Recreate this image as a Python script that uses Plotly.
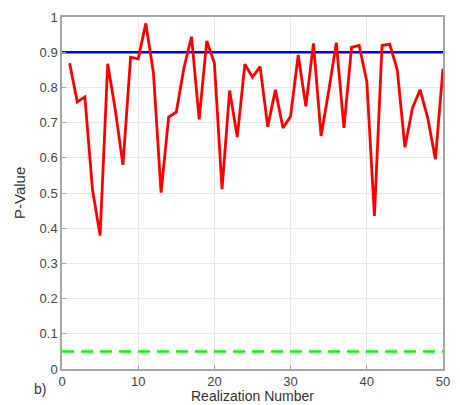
import plotly.graph_objects as go

# Realization index and p-value per realization
realization = list(range(1, 51))
p_value = [
    0.869, 0.759, 0.773, 0.510, 0.379, 0.867, 0.735, 0.580, 0.886, 0.881,
    0.982, 0.841, 0.501, 0.716, 0.730, 0.855, 0.944, 0.709, 0.932, 0.869,
    0.511, 0.791, 0.659, 0.866, 0.829, 0.859, 0.688, 0.793, 0.685, 0.718,
    0.892, 0.746, 0.925, 0.662, 0.790, 0.927, 0.685, 0.914, 0.919, 0.817,
    0.435, 0.919, 0.923, 0.850, 0.630, 0.742, 0.793, 0.713, 0.596, 0.853,
]

# Reference levels
upper_level = 0.9
alpha_level = 0.05
x_range = [0, 50]

x_ticks = [0, 10, 20, 30, 40, 50]
y_ticks = [0, 0.1, 0.2, 0.3, 0.4, 0.5, 0.6, 0.7, 0.8, 0.9, 1]

fig = go.Figure()

fig.add_trace(go.Scatter(
    x=x_range, y=[upper_level, upper_level], mode="lines",
    line=dict(color="#0000ff", width=2.5), hoverinfo="skip",
))
fig.add_trace(go.Scatter(
    x=x_range, y=[alpha_level, alpha_level], mode="lines",
    line=dict(color="#00ff00", width=2.5, dash="12px,7px"), hoverinfo="skip",
))
fig.add_trace(go.Scatter(
    x=realization, y=p_value, mode="lines",
    line=dict(color="#ff0000", width=2.8),
))

axis_common = dict(
    showline=True, mirror=True, linecolor="#a6a6a6", linewidth=1.5,
    showgrid=True, gridcolor="#e8e8e8", gridwidth=1,
    ticks="inside", ticklen=4, tickcolor="#a6a6a6",
    tickfont=dict(family="Liberation Sans, Arial", size=13, color="#444444"),
    zeroline=False,
)

fig.update_layout(
    width=460, height=405,
    margin=dict(l=62, r=10, t=15, b=36),
    paper_bgcolor="white", plot_bgcolor="white",
    showlegend=False,
    xaxis=dict(range=x_range, tickvals=x_ticks, **axis_common),
    yaxis=dict(range=[0, 1], tickvals=y_ticks, **axis_common),
    annotations=[
        dict(text="Realization Number", xref="paper", yref="paper",
             x=0.5, y=-0.077, xanchor="center", yanchor="middle",
             showarrow=False,
             font=dict(family="Liberation Sans, Arial", size=14, color="#333333")),
        dict(text="P-Value", xref="paper", yref="paper",
             x=-0.113, y=0.5, xanchor="center", yanchor="middle",
             textangle=-90, showarrow=False,
             font=dict(family="Liberation Sans, Arial", size=15, color="#333333")),
        dict(text="b)", xref="paper", yref="paper",
             x=-0.058, y=-0.058, xanchor="center", yanchor="middle",
             showarrow=False,
             font=dict(family="Liberation Sans, Arial", size=14, color="#333333")),
    ],
)

fig.write_html("out.html")
